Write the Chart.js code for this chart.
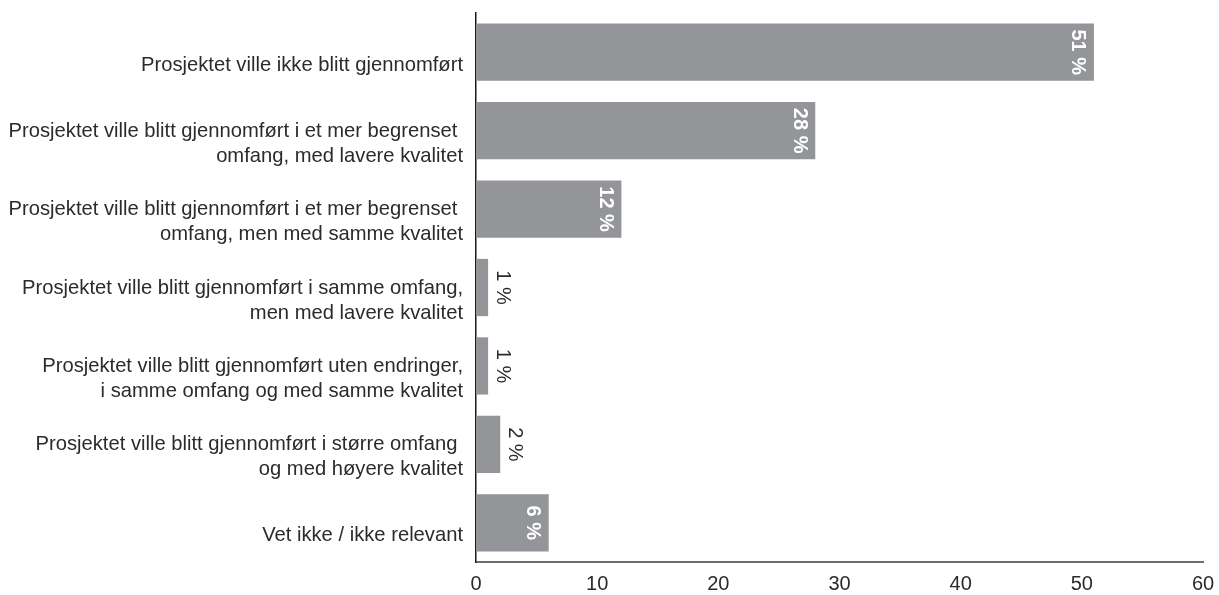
<!DOCTYPE html>
<html>
<head>
<meta charset="utf-8">
<script src="https://cdn.jsdelivr.net/npm/chart.js@4.4.1/dist/chart.umd.min.js"></script>
<style>
  html, body { margin: 0; padding: 0; background: #fff; }
  #wrap { width: 1219px; height: 595px; }
</style>
</head>
<body>
<div id="wrap"><canvas id="chart"></canvas></div>
<script>
// categories (multi-line labels as arrays)
const categories = [
  'Prosjektet ville ikke blitt gjennomført',
  ['Prosjektet ville blitt gjennomført i et mer begrenset ', 'omfang, med lavere kvalitet'],
  ['Prosjektet ville blitt gjennomført i et mer begrenset ', 'omfang, men med samme kvalitet'],
  ['Prosjektet ville blitt gjennomført i samme omfang,', 'men med lavere kvalitet'],
  ['Prosjektet ville blitt gjennomført uten endringer,', 'i samme omfang og med samme kvalitet'],
  ['Prosjektet ville blitt gjennomført i større omfang ', 'og med høyere kvalitet'],
  'Vet ikke / ikke relevant'
];
const values = [51, 28, 12, 1, 1, 2, 6];
const xTicks = [0, 10, 20, 30, 40, 50, 60];

const FONT = '"Liberation Sans", Arial, sans-serif';

// rotated value labels: white bold inside big bars, dark outside small ones
const barLabels = {
  id: 'barLabels',
  afterDatasetsDraw(chart) {
    const ctx = chart.ctx;
    const meta = chart.getDatasetMeta(0);
    meta.data.forEach((bar, i) => {
      const v = values[i];
      const txt = v + ' %';
      const inside = v >= 5;
      ctx.save();
      ctx.font = (inside ? 'bold ' : '') + '20px ' + FONT;
      ctx.fillStyle = inside ? '#ffffff' : '#2b2b2b';
      ctx.textAlign = 'center';
      ctx.textBaseline = 'middle';
      const x = inside ? bar.x - 16 : bar.x + 14;
      ctx.translate(x, bar.y);
      ctx.rotate(Math.PI / 2);
      ctx.fillText(txt, 0, 0);
      ctx.restore();
    });
  }
};

new Chart(document.getElementById('chart'), {
  type: 'bar',
  data: {
    labels: categories,
    datasets: [{
      data: values,
      backgroundColor: '#939598',
      barPercentage: 0.73,
      categoryPercentage: 1.0
    }]
  },
  options: {
    indexAxis: 'y',
    responsive: true,
    maintainAspectRatio: false,
    animation: false,
    layout: { padding: { top: 13, right: 16, bottom: 0, left: 0 } },
    plugins: {
      legend: { display: false },
      tooltip: { enabled: false }
    },
    scales: {
      x: {
        min: 0,
        max: 60,
        afterBuildTicks(scale) { scale.ticks = xTicks.map(v => ({ value: v })); },
        afterFit(scale) {
          scale.height = 33;
          scale.paddingLeft = 0;
          scale.paddingRight = 0;
        },
        grid: { display: false, drawTicks: false },
        border: { display: true, color: '#6d6e71', width: 2 },
        ticks: { padding: 10, color: '#2b2b2b', font: { family: FONT, size: 20 } }
      },
      y: {
        afterFit(scale) {
          scale.width = 476;
          scale.paddingTop = 0;
          scale.paddingBottom = 0;
        },
        grid: { display: false, drawTicks: false },
        border: { display: true, color: '#1a1a1a', width: 1.5 },
        ticks: {
          padding: 13,
          labelOffset: 13,
          color: '#2b2b2b',
          font: { family: FONT, size: 20.2, lineHeight: 1.24 }
        }
      }
    }
  },
  plugins: [barLabels]
});
</script>
</body>
</html>
